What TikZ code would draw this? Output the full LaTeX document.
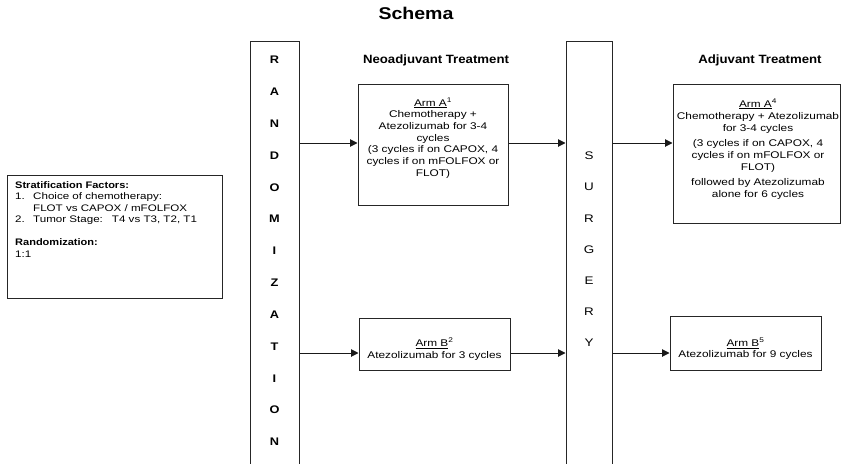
\documentclass[tikz,border=0pt]{standalone}
\usepackage{fontspec}
\setmainfont{Liberation Sans}
\newfontfamily\bodyf[FakeStretch=1.22]{Liberation Sans}
\newfontfamily\bodyb[FakeStretch=1.16]{Liberation Sans}
\newfontfamily\headf[FakeStretch=1.1]{Liberation Sans}
\newfontfamily\titlef[FakeStretch=1.15]{Liberation Sans}
\usetikzlibrary{arrows.meta}
\begin{document}
\begin{tikzpicture}[x=1pt,y=-1pt,
  box/.style={draw=black!85, line width=1pt, inner sep=0pt},
  txt/.style={inner sep=0pt, align=center, font=\bodyf\fontsize{9.7}{11.67}\selectfont},
  head/.style={inner sep=0pt, font=\headf\bfseries\fontsize{12}{14}\selectfont},
  titlest/.style={inner sep=0pt, font=\titlef\bfseries\fontsize{17}{20}\selectfont},
  letters/.style={inner sep=0pt, align=center, font=\bodyb\bfseries\fontsize{11}{31.83}\selectfont},
  sletters/.style={inner sep=0pt, align=center, font=\bodyf\fontsize{11}{31.2}\selectfont},
  arr/.style={draw=black!90, line width=1pt, -{Triangle[length=7.5pt,width=7.5pt]}}]
\useasboundingbox (0,0) rectangle (843,463);
\coordinate (rowA) at (0,143);
\coordinate (rowB) at (0,353);
% titles
\node[titlest] (title) at (416,13) {Schema};
\node[head] (hneo) at (436,60) {Neoadjuvant Treatment};
\node[head] (hadj) at (760,60) {Adjuvant Treatment};
% stratification box
\node[box, minimum width=215pt, minimum height=123pt] (strat) at (114.5,236.5) {};
\node[anchor=north west, inner sep=0pt, align=left, font=\bodyf\fontsize{9.5}{11.5}\selectfont] (strattxt) at (15,181)
  {{\bodyb\bfseries Stratification Factors:}\\
   \makebox[18pt][l]{1.}Choice of chemotherapy:\\
   \hspace*{18pt}FLOT vs CAPOX / mFOLFOX\\
   \makebox[18pt][l]{2.}Tumor Stage:\hspace{9pt}T4 vs T3, T2, T1\\[11.5pt]
   {\bodyb\bfseries Randomization:}\\
   1:1};
% randomization bar
\node[box, minimum width=49pt, minimum height=440pt] (rand) at (274.5,261) {};
\node[letters] (randtxt) at (274.5,251) {R\\A\\N\\D\\O\\M\\I\\Z\\A\\T\\I\\O\\N};
% surgery bar
\node[box, minimum width=46pt, minimum height=440pt] (surg) at (589,261) {};
\node[sletters] (surgtxt) at (589,249.5) {S\\U\\R\\G\\E\\R\\Y};
% neoadjuvant arms
\node[box, minimum width=150pt, minimum height=121pt] (armA) at (433,144.5) {};
\node[txt] (armAtxt) at (433,138) {\underline{Arm A}\textsuperscript{1}\\Chemotherapy +\\Atezolizumab for 3-4\\cycles\\(3 cycles if on CAPOX, 4\\cycles if on mFOLFOX or\\FLOT)};
\node[box, minimum width=151pt, minimum height=52pt] (armB) at (434.5,344) {};
\node[txt] (armBtxt) at (434.5,349) {\underline{Arm B}\textsuperscript{2}\\Atezolizumab for 3 cycles};
% adjuvant arms
\node[box, minimum width=167pt, minimum height=139pt] (adjA) at (756.5,153.5) {};
\node[txt, font=\bodyf\fontsize{9.7}{12}\selectfont] (adjAtxt) at (758,149) {\underline{Arm A}\textsuperscript{4}\\Chemotherapy + Atezolizumab\\for 3-4 cycles\\[3pt](3 cycles if on CAPOX, 4\\cycles if on mFOLFOX or\\FLOT)\\[3pt]followed by Atezolizumab\\alone for 6 cycles};
\node[box, minimum width=151pt, minimum height=54pt] (adjB) at (745.5,343) {};
\node[txt] (adjBtxt) at (745.5,349) {\underline{Arm B}\textsuperscript{5}\\Atezolizumab for 9 cycles};
% connectors
\draw[arr] (rand.east |- rowA) -- (armA.west |- rowA);
\draw[arr] (armA.east |- rowA) -- (surg.west |- rowA);
\draw[arr] (surg.east |- rowA) -- (adjA.west |- rowA);
\draw[arr] (rand.east |- rowB) -- (armB.west |- rowB);
\draw[arr] (armB.east |- rowB) -- (surg.west |- rowB);
\draw[arr] (surg.east |- rowB) -- (adjB.west |- rowB);
\end{tikzpicture}
\end{document}
